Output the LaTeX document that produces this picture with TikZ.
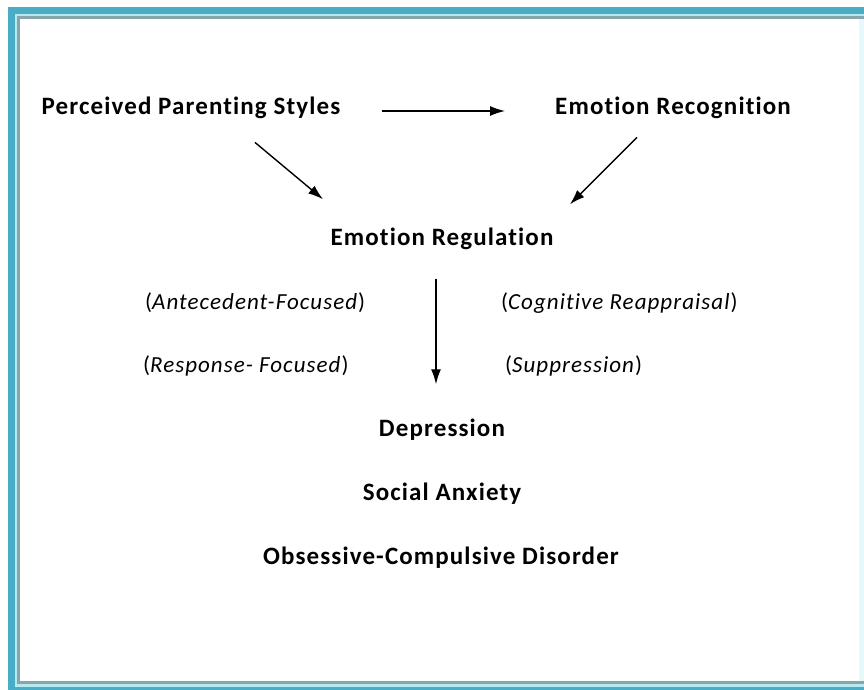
\documentclass[tikz,border=0pt]{standalone}
\usepackage{fontspec}
\setmainfont{Carlito}[LetterSpace=4.5, Ligatures=NoCommon]
\usepackage{xcolor}
\usepackage{tikz}
\usetikzlibrary{arrows.meta}
\usetikzlibrary{calc}
\usetikzlibrary{positioning}

\definecolor{frameteal}{HTML}{4BACC6}
\definecolor{framelight}{HTML}{B6EAF3}
\definecolor{framegray}{HTML}{86A6AC}

\tikzset{
  concept/.style={font=\fontsize{25}{30}\selectfont\bfseries,
    inner sep=0pt, anchor=base},
  strategy/.style={font=\fontsize{23}{28}\selectfont,
    inner sep=0pt, anchor=base west},
  link/.style={-{Latex[length=15pt, width=10pt]}, line width=1.4pt}
}

\begin{document}
\begin{tikzpicture}[x=1pt, y=-1pt]

    \useasboundingbox (0, 0) rectangle (864, 690);

    \fill [frameteal] (8, 7) rectangle (880, 700);
    \fill [framelight] (15, 14) rectangle (880, 687);
    \fill [framegray] (17, 16) rectangle (880, 684);
    \fill [white] (20, 19) rectangle (880, 681);
    \fill [framelight!35] (859, 19) rectangle (864, 681);

    \node [concept] (pps) at (191, 114) {Perceived Parenting Styles};
    \node [concept] (rec) at (673, 114) {Emotion Recognition};
    \node [concept] (reg) at (442, 245) {Emotion Regulation};

    \node [strategy] (ante) at (145, 309) {(\textit{Antecedent-Focused})};
    \node [strategy] (cog) at (501, 309) {(\textit{Cognitive Reappraisal})};
    \node [strategy] (resp) at (143, 372) {(\textit{Response- Focused})};
    \node [strategy] (supp) at (505, 372) {(\textit{Suppression})};

    \node [concept] (dep) at (442, 436) {Depression};
    \node [concept] (soc) at (442, 500) {Social Anxiety};
    \node [concept] (ocd) at (441, 564) {Obsessive-Compulsive Disorder};

    \draw [link] ($(pps.base east)+(41, -3)$) -- ($(rec.base west)+(-50, -3)$);
    \draw [link] ($(pps.south)+(64, 24)$) -- ($(reg.north)+(-119, -28)$);
    \draw [link] ($(rec.south)+(-36, 19)$) -- ($(reg.north)+(128, -23)$);
    \draw [link] ($(reg.south)+(-6, 30)$) -- ($(dep.north)+(-6, -34)$);

\end{tikzpicture}
\end{document}
